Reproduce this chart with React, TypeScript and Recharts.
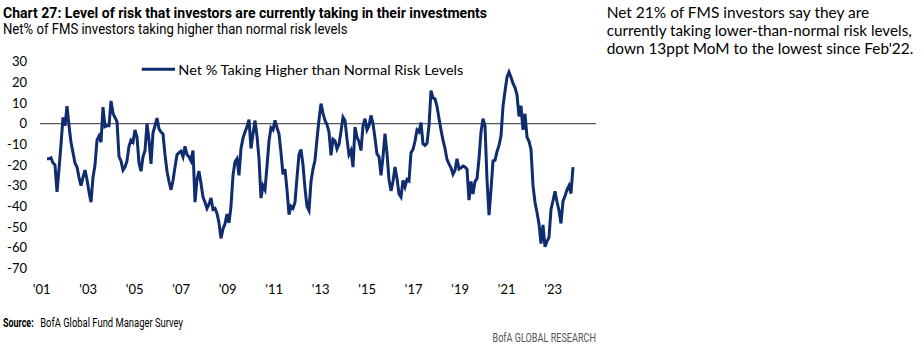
import { LineChart, Line, XAxis, YAxis, ReferenceLine, Legend } from 'recharts';

// Net % of FMS investors taking higher than normal risk (oldest first)
const riskValues = [
  -17, -17, -16.5, -19, -20, -33, -22, -10, 3, -1, 8.5, -1, -9, -14, -19, -21, -26, -30, -26, -22.5,
  -27, -33, -38, -26, -20, -8, -6, -9, 8, -1.5, -1, -1, 11, 5, 3, 1, -16, -18, -22.5, -21,
  -18, -11, -8, -9, -3, -6.5, -19, -23, -16, -13, 0, -8, -19.5,
  -4.5, -1, 2.7, -2.5, -4, -5, -15, -23, -28, -32, -27.5, -21, -15, -14, -13.3, -16, -11, -15, -16, -18,
  -13, -38, -27, -23, -29, -35.5, -38, -41, -39, -36, -41.5, -41, -43.5, -48, -55.5, -51, -48.5, -43.7, -48, -40,
  -25, -18.5, -17, -25, -12, -7, -4, -1.5, 2, -12, -5, 1.5, -6, -17, -36,
  -30, -32, -20.5, -8.5, -2, -3, 1.6, -2, -5, -14, -24.5, -22, -32, -44, -40, -41, -38, -26, -15, -12.5,
  -20, -31.4, -40, -42, -28, -22, -17.7, -7.5, 2, 9.7, 5, 1.6, -0.5, -4, -15.3, -7.5, -8.3, -12.2, -10, -3.8,
  3.2, 1.6, -7.5, -15, -13, -21, -1.6, -6.5, -8.7, -13, -1, 2.4, -3, -1, 4,
  0, -7, -14.6, -16, -25, -16, -4.8, -14.5, -27, -32.5, -28, -21, -26.5, -34, -35.5, -27.5, -30.6, -27, -27.7, -14,
  -12.5, -8.5, -3, -4, 0.5, -9.7, -10.5, -9.5, -1, 16, 12.5, 12, 8.4, 2.5, -3, -8, -12, -17.3, -19.5, -21.4,
  -24.5, -22.5, -17, -22, -21.4, -20.5, -21, -22, -37, -28, -34, -28, -26.6, -17, -4,
  2.4, -1, -27, -44.3, -32, -18, -17.7, -13.5, -10.5, -6, 8.4, 15.7, 22.5, 25, 22.5, 19.5, 17.5, 14, 3.5, 8.7,
  -3, 4.8, -6.5, -8.5, -12.5, -30, -38, -43, -48.5, -58, -49, -59.6, -57, -55, -41.5, -37.3, -32.7, -37.8, -42, -48.3,
  -37.6, -35, -32, -30, -33.8, -21,
];

const yTicks = [-70, -60, -50, -40, -30, -20, -10, 0, 10, 20, 30];
const xTickLabels = ["'01", "'03", "'05", "'07", "'09", "'11", "'13", "'15", "'17", "'19", "'21", "'23"];
const seriesName = 'Net % Taking Higher than Normal Risk Levels';

const NAVY = '#0f2c6e';
const FONT = 'Lato, "Open Sans", sans-serif';
const COND = 'Roboto, "Noto Sans", sans-serif';

// one label every two years (about 23 samples apart)
const xTicks = xTickLabels.map((_, k) => -2.65 + 23.25 * k);
const chartData = riskValues.map((value, i) => ({ i, value }));

function XTick(props: any) {
  const { x, y, index } = props;
  return (
    <text x={x} y={y} dy="0.71em" textAnchor="middle" fontFamily={FONT} fontSize={13} fill="#000">
      {xTickLabels[index]}
    </text>
  );
}

function LegendContent() {
  return (
    <svg width={330} height={20} style={{ display: 'block' }}>
      <line x1={1.7} x2={35} y1={9.3} y2={9.3} stroke={NAVY} strokeWidth={3} />
      <text x={38.3} y={14.5} fontFamily={FONT} fontSize={13} fill="#000" textLength={285} lengthAdjust="spacingAndGlyphs">
        {seriesName}
      </text>
    </svg>
  );
}

export default function App() {
  return (
    <div style={{ position: 'relative', width: 924, height: 356, background: '#fff' }}>
      <style>{'body{margin:0}'}</style>
      <LineChart width={924} height={356} data={chartData} margin={{ top: 61.7, right: 328, bottom: 57.7, left: 10 }}>
        <XAxis
          type="number"
          dataKey="i"
          domain={[-3.5, 274.5]}
          ticks={xTicks}
          interval={0}
          allowDataOverflow
          axisLine={false}
          tickLine={false}
          tickSize={0}
          tickMargin={16}
          height={30}
          tick={<XTick />}
        />
        <YAxis
          domain={[-70, 30]}
          ticks={yTicks}
          interval={0}
          allowDataOverflow
          width={30}
          axisLine={false}
          tickLine={false}
          tickSize={0}
          tickMargin={13}
          tick={{ fill: '#000', fontSize: 13, fontFamily: FONT }}
        />
        <ReferenceLine y={0} stroke="#5a5a5a" strokeWidth={1.3} />
        <Legend
          layout="horizontal"
          verticalAlign="middle"
          align="center"
          wrapperStyle={{ left: 140, top: 60, width: 330, height: 20 }}
          content={<LegendContent />}
        />
        <Line type="linear" dataKey="value" name={seriesName} stroke={NAVY} strokeWidth={3} dot={false} isAnimationActive={false} />
      </LineChart>
      <svg width={924} height={356} style={{ position: 'absolute', left: 0, top: 0, pointerEvents: 'none' }}>
        <text x={3} y={17.5} fontFamily={COND} fontWeight={700} fontSize={14.5} fill="#000" textLength={484} lengthAdjust="spacingAndGlyphs">
          Chart 27: Level of risk that investors are currently taking in their investments
        </text>
        <text x={3} y={34} fontFamily={COND} fontSize={14} fill="#000" textLength={344.5} lengthAdjust="spacingAndGlyphs">
          Net% of FMS investors taking higher than normal risk levels
        </text>
        <text x={606.7} y={18.3} fontFamily={FONT} fontSize={15} fill="#000" textLength={262.6} lengthAdjust="spacingAndGlyphs">
          Net 21% of FMS investors say they are
        </text>
        <text x={606.7} y={36.2} fontFamily={FONT} fontSize={15} fill="#000" textLength={305} lengthAdjust="spacingAndGlyphs">
          currently taking lower-than-normal risk levels,
        </text>
        <text x={606.7} y={54} fontFamily={FONT} fontSize={15} fill="#000" textLength={306.6} lengthAdjust="spacingAndGlyphs">
          down 13ppt MoM to the lowest since Feb'22.
        </text>
        <text x={3} y={327} fontFamily={COND} fontWeight={700} fontSize={12} fill="#000" textLength={30.7} lengthAdjust="spacingAndGlyphs">
          Source:
        </text>
        <text x={40.2} y={327} fontFamily={COND} fontSize={12} fill="#000" textLength={142.8} lengthAdjust="spacingAndGlyphs">
          BofA Global Fund Manager Survey
        </text>
        <text x={492.5} y={341.5} fontFamily={COND} fontSize={12} fill="#555" textLength={103.5} lengthAdjust="spacingAndGlyphs">
          BofA GLOBAL RESEARCH
        </text>
      </svg>
    </div>
  );
}
